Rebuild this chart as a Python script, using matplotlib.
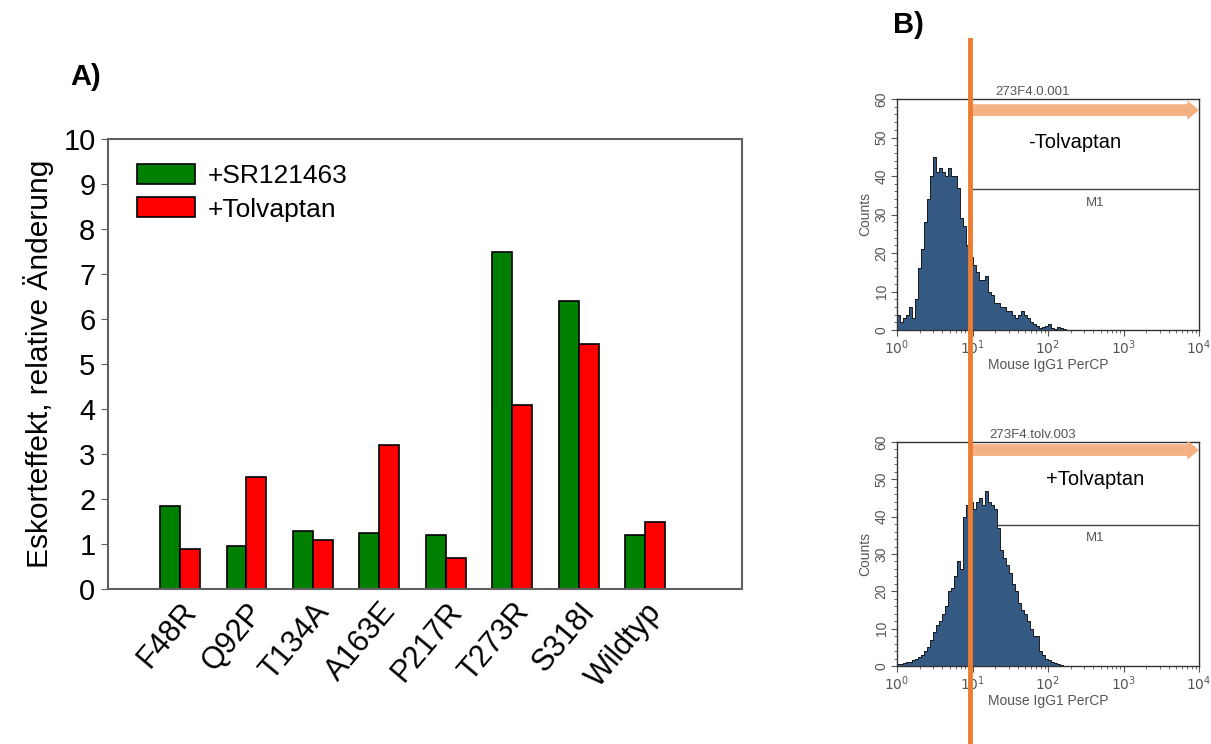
import numpy as np
import matplotlib
matplotlib.use('Agg')
import matplotlib.pyplot as plt
from matplotlib.lines import Line2D
from matplotlib import font_manager

plt.rcParams['font.family'] = ['Liberation Sans', 'DejaVu Sans']
names = {f.name for f in font_manager.fontManager.ttflist}
narrow = ['Liberation Sans Narrow', 'Liberation Sans'] if 'Liberation Sans Narrow' in names else ['Liberation Sans']

# --- panel A data ---
mutanten = ['F48R', 'Q92P', 'T134A', 'A163E', 'P217R', 'T273R', 'S318I', 'Wildtyp']
sr121463 = [1.85, 0.95, 1.3, 1.25, 1.2, 7.5, 6.4, 1.2]
tolvaptan = [0.9, 2.5, 1.1, 3.2, 0.68, 4.1, 5.45, 1.5]

# --- panel B data: FACS histograms, counts per channel (log10 bins of 0.04 starting at 10^0) ---
bin_start = 0.0
bin_step = 0.04
counts_ohne = [4, 2, 3, 4, 6, 3, 8, 16, 21, 28, 34, 40, 45, 41, 42, 41, 40, 42, 40, 40,
               37, 29, 27, 22, 19, 17, 15, 13, 13, 14, 10, 9, 7, 7, 6, 6, 5, 5, 4, 3,
               4, 5, 4, 3, 2, 1.5, 1, 0.5, 0.8, 1, 1.5, 0.5, 0.3, 0.8, 0.5, 0.3, 0, 0]
counts_tolv = [0.5, 0.5, 0.8, 1, 1.2, 1.5, 2, 2.5, 3, 4, 5, 7, 9, 11, 12, 14, 16, 20, 21, 24,
               28, 26, 40, 43, 44, 42, 44, 45, 43, 47, 44, 43, 42, 37, 31, 29, 27, 25, 22, 20,
               17, 15, 14, 12, 10, 8, 8, 4, 3, 2, 1.5, 1, 0.8, 0.5, 0.3, 0, 0, 0]
gate_pos = 9.3
m1_ohne = 36.6
m1_tolv = 37.8

W, H = 1211, 744
fig = plt.figure(figsize=(W / 100, H / 100), dpi=100)


def frac(x0, y0, x1, y1):
    return [x0 / W, 1 - y1 / H, (x1 - x0) / W, (y1 - y0) / H]


# ---------------- A) bar chart ----------------
ax = fig.add_axes(frac(108, 139, 742, 589))
x = np.arange(len(mutanten))
bw = 0.3
ax.bar(x - bw / 2, sr121463, bw, color='#008000', edgecolor='black', linewidth=1.2, label='+SR121463')
ax.bar(x + bw / 2, tolvaptan, bw, color='#ff0000', edgecolor='black', linewidth=1.2, label='+Tolvaptan')
ax.set_xlim(-1.084, 8.46)
ax.set_ylim(0, 10)
ax.set_yticks(range(0, 11))
ax.set_xticks(x)
ax.set_xticklabels(mutanten, rotation=50, ha='right', rotation_mode='anchor', fontsize=22,
                   family=narrow)
ax.set_yticklabels([str(v) for v in range(0, 11)], fontsize=21, family=narrow)
ax.tick_params(axis='x', length=0, pad=6)
ax.tick_params(axis='y', length=5, color='#606060', pad=4)
for s in ax.spines.values():
    s.set_color('#606060')
    s.set_linewidth(1.5)
ax.set_ylabel('Eskorteffekt, relative Änderung', fontsize=21.5, labelpad=7)
ax.legend(loc='upper left', bbox_to_anchor=(0.045, 0.945), frameon=False,
          prop={'family': narrow, 'size': 19},
          handlelength=2.2, handleheight=0.8, handletextpad=0.5, borderpad=0, borderaxespad=0,
          labelspacing=0.35)

fig.text(70 / W, 1 - 77 / H, 'A)', fontsize=21, fontweight='bold', va='center', family=narrow)
fig.text(893 / W, 1 - 25 / H, 'B)', fontsize=21, fontweight='bold', va='center', family=narrow)

# ---------------- B) histograms ----------------
edges = 10 ** (bin_start + bin_step * np.arange(len(counts_ohne) + 1))


def facs(rect, counts, title, label, m1, arrow_y, lab_y):
    hx = fig.add_axes(rect)
    c = list(counts) + [counts[-1]]
    hx.axhline(m1, xmin=(np.log10(gate_pos)) / 4, xmax=1, color='#444444', lw=1, zorder=1)
    hx.fill_between(edges, c, step='post', color='#345a84', zorder=2, lw=0)
    hx.step(edges, c, where='post', color='#1a1a1a', lw=0.7, zorder=3)
    hx.set_xscale('log')
    hx.set_xlim(1, 1e4)
    hx.set_ylim(0, 60)
    hx.set_xticks([1, 10, 100, 1000, 10000])
    hx.set_xticklabels(['$10^0$', '$10^1$', '$10^2$', '$10^3$', '$10^4$'])
    hx.set_yticks(range(0, 61, 10))
    hx.set_yticks(range(0, 61, 2), minor=True)
    for t in hx.get_yticklabels():
        t.set_rotation(90)
        t.set_va('center')
    hx.tick_params(axis='both', labelsize=10, colors='#555555', length=4, pad=2)
    hx.tick_params(which='minor', length=2, color='#555555')
    for s in hx.spines.values():
        s.set_color('#333333')
        s.set_linewidth(1)
    hx.set_xlabel('Mouse IgG1 PerCP', fontsize=10, color='#555555', labelpad=1)
    hx.set_ylabel('Counts', fontsize=10, color='#555555', labelpad=2)
    hx.set_title(title, fontsize=9.5, color='#555555', x=0.45, pad=3)
    hx.text(10 ** 2.62, m1 - 3.5, 'M1', fontsize=9.5, color='#555555', ha='center', va='center')
    hx.text(10 ** lab_y[0], lab_y[1], label, fontsize=14.5, ha='center', va='center')
    hx.annotate('', xy=(1.0, arrow_y), xytext=((970 - 897) / 302, arrow_y),
                xycoords='axes fraction', textcoords='axes fraction', annotation_clip=False,
                arrowprops=dict(arrowstyle='simple,head_length=0.6,head_width=1.0,tail_width=0.6',
                                mutation_scale=14, color='#f4b183', shrinkA=0, shrinkB=0, lw=0))
    return hx


facs(frac(897, 99, 1199, 330), counts_ohne, '273F4.0.001', '-Tolvaptan', m1_ohne, 0.952, (2.36, 48.8))
facs(frac(897, 442, 1199, 666), counts_tolv, '273F4.tolv.003', '+Tolvaptan', m1_tolv, 0.964, (2.62, 50))

# orange gate line across both histograms
fig.add_artist(Line2D([970 / W, 970 / W], [1 - 40 / H, 0], transform=fig.transFigure,
                      color='#ed7d31', lw=3.5, zorder=10))

fig.savefig('out.png', dpi=100)
